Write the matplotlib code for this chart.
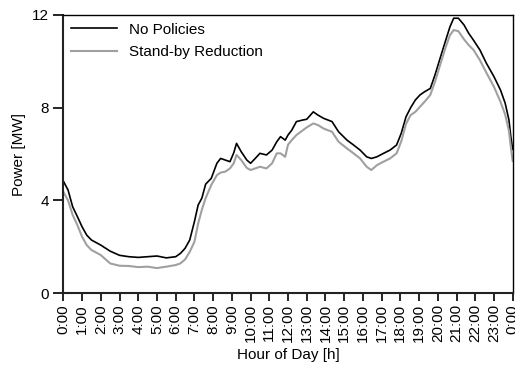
import matplotlib
matplotlib.use("Agg")
import matplotlib.pyplot as plt

plt.rcParams["font.family"] = ["Liberation Sans", "DejaVu Sans"]

# hour of day and power demand [MW] for both scenarios
hours = [0, 0.25, 0.5, 0.75, 1, 1.25, 1.5,
         2, 2.5, 3, 3.5, 4, 4.5, 5, 5.5, 6,
         6.25, 6.5, 6.75, 7,
         7.2, 7.4, 7.6, 7.9,
         8.2, 8.4, 8.65, 8.9,
         9.1, 9.25, 9.5, 9.8,
         10, 10.25, 10.5, 10.85,
         11.15, 11.4, 11.6, 11.85,
         12.0, 12.2, 12.45, 12.8,
         13.0, 13.35, 13.6, 13.9,
         14.35, 14.7, 15.15, 15.5,
         15.85, 16.2, 16.45, 16.75,
         17.1, 17.45, 17.8, 18.05,
         18.3, 18.55, 18.8, 19.05,
         19.3, 19.6, 19.85, 20.15,
         20.4, 20.65, 20.85, 21.1,
         21.4, 21.65, 21.9, 22.25,
         22.6, 23.0, 23.35, 23.6,
         23.8, 23.9, 24]
no_policies = [4.83, 4.45, 3.72, 3.3, 2.86, 2.5, 2.29,
               2.07, 1.81, 1.63, 1.57, 1.54, 1.57, 1.6, 1.52, 1.57,
               1.71, 1.93, 2.29, 3.08,
               3.8, 4.1, 4.7, 4.95,
               5.6, 5.81, 5.74, 5.67,
               6.05, 6.46, 6.1, 5.74,
               5.6, 5.81, 6.03, 5.96,
               6.17, 6.53, 6.75, 6.6,
               6.82, 7.03, 7.4, 7.47,
               7.5, 7.82, 7.68, 7.54,
               7.4, 6.96, 6.6, 6.39,
               6.17, 5.88, 5.81, 5.88,
               6.03, 6.17, 6.39, 6.9,
               7.6, 8.0, 8.33, 8.55,
               8.69, 8.83, 9.41, 10.2,
               10.85, 11.49, 11.86, 11.86,
               11.57, 11.21, 10.92, 10.49,
               9.91, 9.34, 8.76, 8.19,
               7.47, 6.75, 6.2]
standby_red = [4.37, 4.0, 3.37, 2.93, 2.43, 2.07, 1.86,
               1.64, 1.28, 1.18, 1.17, 1.12, 1.14, 1.08, 1.14, 1.21,
               1.28, 1.45, 1.78, 2.21,
               3.0, 3.6, 4.1, 4.66,
               5.09, 5.2, 5.24, 5.38,
               5.6, 5.96, 5.74, 5.4,
               5.31, 5.38, 5.45, 5.38,
               5.6, 6.03, 6.03, 5.88,
               6.4, 6.6, 6.82, 7.03,
               7.15, 7.32, 7.25, 7.1,
               6.96, 6.53, 6.24, 6.03,
               5.81, 5.45, 5.31, 5.52,
               5.67, 5.81, 6.03, 6.55,
               7.3, 7.68, 7.82, 8.04,
               8.26, 8.55, 9.12, 9.91,
               10.56, 11.13, 11.35, 11.3,
               10.95, 10.7, 10.5, 10.05,
               9.5, 8.9, 8.25, 7.7,
               7.0, 6.3, 5.7]
assert len(hours) == len(no_policies) == len(standby_red)
tick_labels = [f"{h % 24}:00" for h in range(25)]

fig = plt.figure(figsize=(5.15, 3.65), dpi=100)
ax = fig.add_axes([0.123, 0.197, 0.8725, 0.762])

ax.plot(hours, no_policies, color="black", lw=1.2, label="No Policies")
ax.plot(hours, standby_red, color="#a0a0a0", lw=1.5, label="Stand-by Reduction")

ax.set_xlim(0, 24)
ax.set_ylim(0, 12)
ax.set_xticks(range(25))
ax.set_xticklabels(tick_labels, rotation=90, fontsize=11)
ax.set_yticks([0, 4, 8, 12])
ax.tick_params(axis="y", direction="out", length=7, width=1.2, labelsize=11)
ax.tick_params(axis="x", direction="out", length=6, width=1.2, pad=2)
for s in ("left", "bottom"):
    ax.spines[s].set_linewidth(1.5)
    ax.spines[s].set_color("#222222")
for s in ("top", "right"):
    ax.spines[s].set_linewidth(1.0)

ax.set_ylabel("Power [MW]", fontsize=11, labelpad=4)
ax.set_xlabel("Hour of Day [h]", fontsize=11, labelpad=4)

ax.legend(loc="upper left", frameon=False, fontsize=11, handlelength=3.0,
          handletextpad=0.8, labelspacing=0.55, borderaxespad=0.3,
          borderpad=0.2)

fig.savefig("out.png", dpi=100)
